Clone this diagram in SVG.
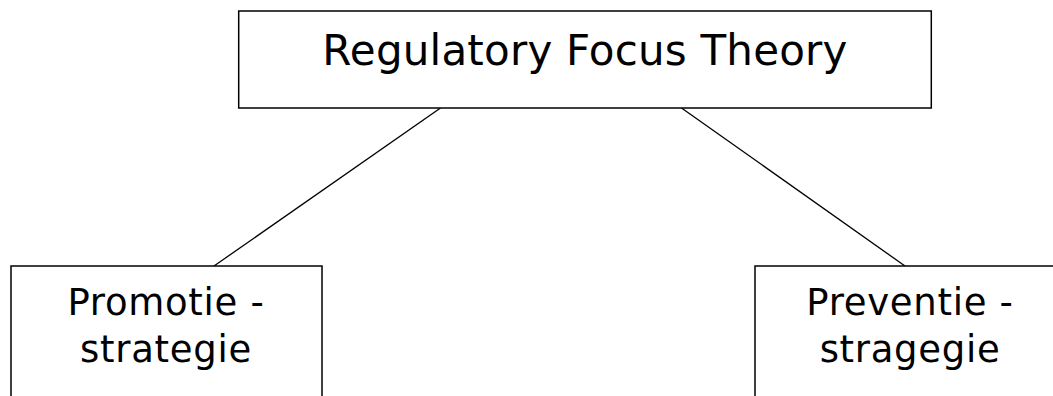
<svg xmlns="http://www.w3.org/2000/svg" width="1053" height="396" viewBox="0 0 1053 396">
  <style>
    .box { fill: #ffffff; stroke: #000000; stroke-width: 1.5; }
    .link { stroke: #000000; stroke-width: 1.3; fill: none; }
    .lbl { font-family: "DejaVu Sans", Verdana, sans-serif; fill: #000000; text-anchor: middle; }
    .big { font-size: 42px; letter-spacing: 0.2px; }
    .mid { font-size: 37px; letter-spacing: 0.7px; }
  </style>
  <rect width="1053" height="396" fill="#ffffff"/>
  <g id="connectors">
    <line class="link" x1="440.5" y1="108" x2="214" y2="266"/>
    <line class="link" x1="681.5" y1="108" x2="905" y2="266"/>
  </g>
  <g id="node-theory">
    <rect class="box" x="238.7" y="11" width="692.6" height="97"/>
    <text class="lbl big" x="585" y="65">Regulatory Focus Theory</text>
  </g>
  <g id="node-promotie">
    <rect class="box" x="11" y="266" width="311" height="140"/>
    <text class="lbl mid" x="166" y="315">Promotie -</text>
    <text class="lbl mid" x="166" y="362">strategie</text>
  </g>
  <g id="node-preventie">
    <rect class="box" x="755" y="266" width="311" height="140"/>
    <text class="lbl mid" x="910" y="315">Preventie -</text>
    <text class="lbl mid" x="910" y="362">stragegie</text>
  </g>
</svg>
